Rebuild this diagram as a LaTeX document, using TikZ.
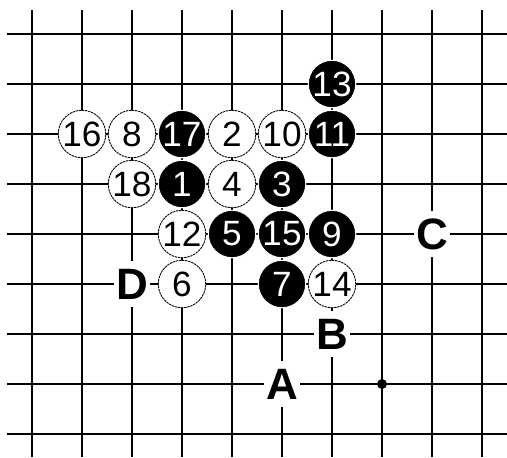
\documentclass[tikz,border=0pt]{standalone}
\usepackage{fontspec}
\setmainfont{Liberation Sans}
\usepackage{tikz}
\usetikzlibrary{positioning}

\begin{document}
\begin{tikzpicture}[line width=1.1pt,
  blackstone/.style={circle, fill=black, draw=white, line width=0.6pt, minimum size=0.95cm, inner sep=0pt, text=white, font=\fontsize{20}{20}\selectfont},
  whitestone/.style={circle, fill=white, draw=black, line width=0.5pt, dash pattern=on 1.4pt off 0.4pt, minimum size=0.95cm, inner sep=0pt, font=\fontsize{20}{20}\selectfont},
  pointlabel/.style={fill=white, inner sep=0pt, minimum width=0.72cm, minimum height=0.92cm, font=\bfseries\fontsize{25}{25}\selectfont}]
  \useasboundingbox (-0.64,-8.46) rectangle (9.5,0.68);
  % board
  \foreach \i in {0,...,9} \draw (\i,0.48) -- (\i,-8.46);
  \foreach \j in {0,...,8} \draw (-0.5,-\j) -- (9.5,-\j);
  \fill (7,-7) circle (0.1);
  % stones
  \foreach \n/\x/\y in {1/3/3, 3/5/3, 5/4/4, 7/5/5, 9/6/4, 11/6/2, 13/6/1, 15/5/4, 17/3/2}
    \node[blackstone] (s\n) at (\x,-\y) {\n};
  \foreach \n/\x/\y in {2/4/2, 4/4/3, 6/3/5, 8/2/2, 10/5/2, 12/3/4, 14/6/5, 16/1/2, 18/2/3}
    \node[whitestone] (s\n) at (\x,-\y) {\n};
  % marked points
  \node[pointlabel] (pA) at (5,-7) {A};
  \node[pointlabel] (pB) at (6,-6) {B};
  \node[pointlabel] (pC) at (8,-4) {C};
  \node[pointlabel] (pD) at (2,-5) {D};
\end{tikzpicture}
\end{document}
